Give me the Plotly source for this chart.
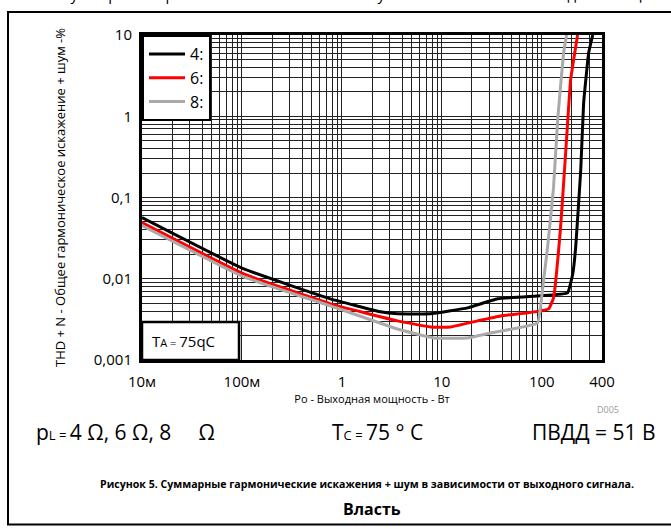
import plotly.graph_objects as go
import numpy as np

# Data (Po in W, THD+N in %)
x_4ohm = [0.01, 0.103, 0.766, 2.43, 3.59, 7.69, 18.1, 36.1, 97.3, 181, 204, 218, 245, 262, 294, 323]
y_4ohm = [0.0566, 0.0133, 0.00566, 0.00392, 0.0037, 0.0037, 0.00438, 0.00566, 0.00617, 0.00671, 0.01153, 0.0241, 0.215, 1.45, 6.0, 10]

x_6ohm = [0.01, 0.103, 0.766, 3.59, 7.69, 12.2, 22.7, 38.6, 72.1, 117, 131, 154, 173, 194, 228]
y_6ohm = [0.0491, 0.01153, 0.00491, 0.00303, 0.00255, 0.00255, 0.00303, 0.00349, 0.0038, 0.00426, 0.00583, 0.0426, 0.349, 2.78, 10]

x_8ohm = [0.01, 0.103, 0.766, 3.59, 8.24, 18.1, 30.7, 57.1, 90.8, 104, 114, 131, 144, 165, 177]
y_8ohm = [0.0451, 0.0106, 0.00464, 0.00241, 0.00187, 0.00187, 0.00215, 0.00248, 0.00286, 0.00944, 0.0241, 0.133, 0.893, 6.0, 10]

series_names = ["4:", "6:", "8:"]
series_colors = ["#000000", "#ff0000", "#aaaaaa"]

x_major = [0.01, 0.1, 1, 10, 100, 400]
x_major_text = ["10м", "100м", "1", "10", "100", "400"]
y_major = [0.001, 0.01, 0.1, 1, 10]
y_major_text = ["0,001", "0,01", "0,1", "1", "10"]

fig = go.Figure()
for xs, ys, nm, col in zip([x_4ohm, x_6ohm, x_8ohm], [y_4ohm, y_6ohm, y_8ohm], series_names, series_colors):
    fig.add_trace(go.Scatter(x=xs, y=ys, mode="lines", name=nm,
                             line=dict(color=col, width=3, shape="spline", smoothing=0.3)))

FONT = "Open Sans"
GRID = "#222222"
fig.update_layout(
    width=671, height=529,
    margin=dict(l=142, r=69, t=35, b=169),
    paper_bgcolor="white", plot_bgcolor="white",
    font=dict(family=FONT, color="#000000"),
    showlegend=True,
    legend=dict(x=0, y=1, xanchor="left", yanchor="top", bgcolor="white",
                bordercolor="#000000", borderwidth=2, font=dict(size=16, family=FONT),
                tracegroupgap=0, itemwidth=36),
    xaxis=dict(type="log", range=[np.log10(0.01), np.log10(400)],
               tickmode="array", tickvals=x_major, ticktext=x_major_text,
               ticks="", showgrid=True, gridcolor=GRID, gridwidth=1,
               minor=dict(dtick="D1", showgrid=True, gridcolor=GRID, gridwidth=1, ticks=""),
               showline=True, linecolor="#000000", linewidth=3, mirror=True,
               tickfont=dict(size=15, family=FONT, color="#000000"),
               ticklabelstandoff=6,
               title=dict(text="Po - Выходная мощность - Вт", font=dict(size=11, family=FONT), standoff=6),
               zeroline=False),
    yaxis=dict(type="log", range=[np.log10(0.001), np.log10(10)],
               tickmode="array", tickvals=y_major, ticktext=y_major_text,
               ticks="", showgrid=True, gridcolor=GRID, gridwidth=1,
               minor=dict(dtick="D1", showgrid=True, gridcolor=GRID, gridwidth=1, ticks=""),
               showline=True, linecolor="#000000", linewidth=3, mirror=True,
               tickfont=dict(size=15, family=FONT, color="#000000"),
               ticklabelstandoff=4,
               title=dict(text="THD + N - Общее гармоническое искажение + шум -%", font=dict(size=13, family=FONT), standoff=26),
               zeroline=False),
)

def px(xpix):
    return (xpix - 142) / 460.0

def py(ypix):
    return (359 - ypix) / 324.0

shapes = [
    # outer frame
    dict(type="rect", xref="paper", yref="paper", x0=px(8), x1=px(690), y0=py(523), y1=py(12),
         line=dict(color="#000000", width=2), fillcolor="rgba(0,0,0,0)", layer="above"),
    # TA box
    dict(type="rect", xref="paper", yref="paper", x0=0, x1=px(239), y0=0, y1=py(321),
         line=dict(color="#000000", width=2.5), fillcolor="white", layer="above"),
]
fig.update_layout(shapes=shapes)

def small(t, s):
    return "<span style='font-size:%dpx'>%s</span>" % (s, t)

annots = [
    dict(text="Суммарные гармонические искажения + шум в зависимости от выходной мощности",
         x=px(372), y=py(6), xanchor="center", yanchor="bottom", font=dict(size=15)),
    dict(text="T" + small("A = ", 11) + "75qC", x=px(150), y=py(340), xanchor="left", yanchor="middle", font=dict(size=15)),
    dict(text="D005", x=px(608), y=py(408), xanchor="center", yanchor="middle", font=dict(size=9, color="#999999")),
    dict(text="p" + small("L = ", 13) + "4 Ω, 6 Ω, 8     Ω", x=px(34), y=py(431), xanchor="left", yanchor="middle", font=dict(size=21)),
    dict(text="T" + small("C = ", 13) + "75 ° C", x=px(330), y=py(431), xanchor="left", yanchor="middle", font=dict(size=21)),
    dict(text="ПВДД = 51 В", x=px(658), y=py(431), xanchor="right", yanchor="middle", font=dict(size=21)),
    dict(text="<b>Рисунок 5. Суммарные гармонические искажения + шум в зависимости от выходного сигнала.</b>",
         x=px(367), y=py(483), xanchor="center", yanchor="middle", font=dict(size=10.6)),
    dict(text="<b>Власть</b>", x=px(372), y=py(508), xanchor="center", yanchor="middle", font=dict(size=16)),
]
for a in annots:
    a.update(xref="paper", yref="paper", showarrow=False)
fig.update_layout(annotations=annots)

fig.write_html("out.html")
